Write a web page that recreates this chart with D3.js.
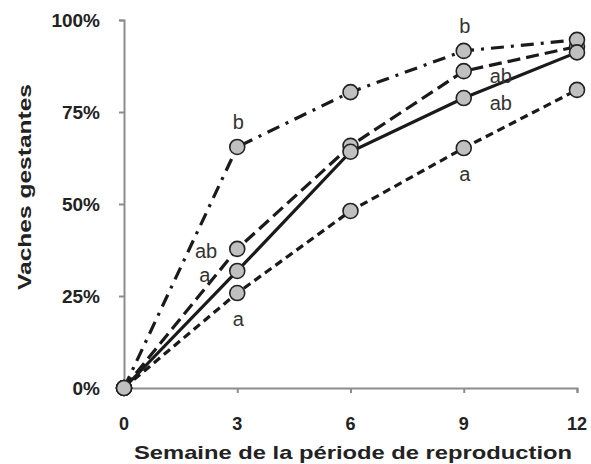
<!DOCTYPE html>
<html>
<head>
<meta charset="utf-8">
<script src="https://cdn.jsdelivr.net/npm/d3@7"></script>
<style>
    body { margin: 0; background: #fff; }
    svg text { font-family: "Liberation Sans", Arial, sans-serif; }
</style>
</head>
<body>
<div id="chart"></div>
<script>
// weeks of the breeding period
const weeks = [0, 3, 6, 9, 12];

// % pregnant cows per group
const solidValues = [0, 31.8, 64.2, 78.8, 91.2];
const dashedValues = [0, 37.8, 65.8, 86.1, 92.8];
const shortDashValues = [0, 25.8, 48.1, 65.2, 81.0];
const dashDotValues = [0, 65.5, 80.4, 91.6, 94.6];

const yTicks = [0, 25, 50, 75, 100];

// significance letters: [week, value, text, position]
const letters = [
    [3, 65.5, 'b', 'above'],
    [3, 37.8, 'ab', 'leftNear'],
    [3, 31.8, 'a', 'leftFar'],
    [3, 25.8, 'a', 'below'],
    [9, 91.6, 'b', 'above'],
    [9, 86.1, 'ab', 'right'],
    [9, 78.8, 'ab', 'right'],
    [9, 65.2, 'a', 'below']
];

const width = 591;
const height = 464;

const svg = d3.select('#chart').append('svg')
    .attr('width', width)
    .attr('height', height);

const x = d3.scaleLinear().domain([0, 12]).range([124, 577]);
const y = d3.scaleLinear().domain([0, 100]).range([388, 20]);

// axes
const xAxis = svg.append('g')
    .attr('transform', `translate(0,${y(0)})`)
    .call(d3.axisBottom(x).tickValues(weeks).tickSize(5).tickFormat(''));
const yAxis = svg.append('g')
    .attr('transform', `translate(${x(0)},0)`)
    .call(d3.axisLeft(y).tickValues(yTicks).tickSize(5).tickFormat(''));

[xAxis, yAxis].forEach(g => {
    g.selectAll('path, line').attr('stroke', '#8c8c8c').attr('stroke-width', 2);
});

// tick labels
svg.selectAll('.xlab').data(weeks).enter().append('text')
    .attr('x', d => x(d))
    .attr('y', 430)
    .attr('text-anchor', 'middle')
    .attr('font-size', '18px')
    .attr('font-weight', 'bold')
    .attr('fill', '#222')
    .text(d => d);

svg.selectAll('.ylab').data(yTicks).enter().append('text')
    .attr('x', 100)
    .attr('y', d => y(d) + 7)
    .attr('text-anchor', 'end')
    .attr('font-size', '19px')
    .attr('font-weight', 'bold')
    .attr('fill', '#222')
    .text(d => d + '%');

// axis titles
svg.append('text')
    .attr('x', 353)
    .attr('y', 459)
    .attr('text-anchor', 'middle')
    .attr('font-size', '19px')
    .attr('font-weight', 'bold')
    .attr('fill', '#222')
    .attr('textLength', 438)
    .attr('lengthAdjust', 'spacingAndGlyphs')
    .text('Semaine de la période de reproduction');

svg.append('text')
    .attr('transform', 'translate(31,187) rotate(-90)')
    .attr('text-anchor', 'middle')
    .attr('font-size', '19px')
    .attr('font-weight', 'bold')
    .attr('fill', '#222')
    .attr('textLength', 206)
    .attr('lengthAdjust', 'spacingAndGlyphs')
    .text('Vaches gestantes');

// series
const series = [
    { values: shortDashValues, dash: '8,5' },
    { values: dashedValues, dash: '13,6' },
    { values: dashDotValues, dash: '13,7,3,7' },
    { values: solidValues, dash: null }
];

const line = d3.line()
    .x((d, i) => x(weeks[i]))
    .y(d => y(d));

series.forEach(s => {
    svg.append('path')
        .datum(s.values)
        .attr('d', line)
        .attr('fill', 'none')
        .attr('stroke', '#1a1a1a')
        .attr('stroke-width', 3.2)
        .attr('stroke-dasharray', s.dash);
});

series.forEach(s => {
    svg.selectAll(null).data(s.values).enter().append('circle')
        .attr('cx', (d, i) => x(weeks[i]))
        .attr('cy', d => y(d))
        .attr('r', 7.5)
        .attr('fill', '#c0c0c0')
        .attr('stroke', '#222')
        .attr('stroke-width', 1.6);
});

// letters
const offsets = {
    above: [1, -18, 'middle'],
    below: [1, 33, 'middle'],
    leftNear: [-20, 9, 'end'],
    leftFar: [-27, 11, 'end'],
    right: [37, 12, 'middle']
};

letters.forEach(l => {
    const o = offsets[l[3]];
    svg.append('text')
        .attr('x', x(l[0]) + o[0])
        .attr('y', y(l[1]) + o[1])
        .attr('text-anchor', o[2])
        .attr('font-size', '20px')
        .attr('fill', '#333')
        .text(l[2]);
});
</script>
</body>
</html>
